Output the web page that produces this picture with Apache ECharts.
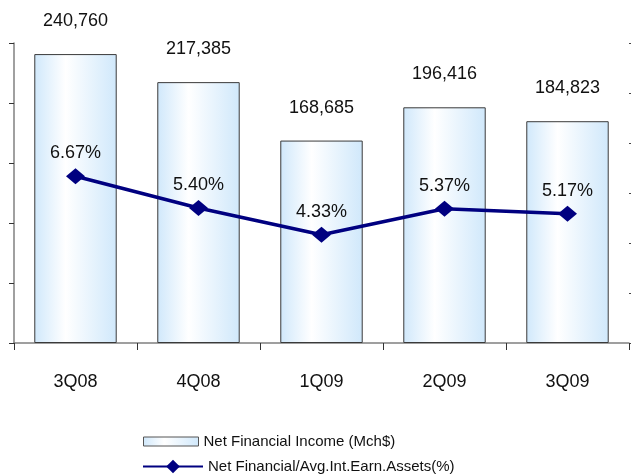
<!DOCTYPE html>
<html>
<head>
<meta charset="utf-8">
<script src="https://cdn.jsdelivr.net/npm/echarts@6/dist/echarts.min.js"></script>
<style>
  html, body { margin: 0; padding: 0; background: #fff; }
  #main { width: 631px; height: 474px; }
</style>
</head>
<body>
<div id="main"></div>
<script>
const quarters = ['3Q08', '4Q08', '1Q09', '2Q09', '3Q09'];
const netFinancialIncome = [240760, 217385, 168685, 196416, 184823];
const marginPct = [6.67, 5.40, 4.33, 5.37, 5.17];

const barName = 'Net Financial Income (Mch$)';
const lineName = 'Net Financial/Avg.Int.Earn.Assets(%)';
const font = "'Liberation Sans', Arial, sans-serif";

const chart = echarts.init(document.getElementById('main'));

const barFill = new echarts.graphic.LinearGradient(0, 0, 1, 0, [
  { offset: 0, color: '#d0e8fb' },
  { offset: 0.38, color: '#ffffff' },
  { offset: 1, color: '#d0e8fb' }
]);

chart.setOption({
  animation: false,
  textStyle: { fontFamily: font, color: '#111' },
  grid: { left: 14, right: 2, top: 43, bottom: 131 },
  legend: [
    {
      data: [{ name: barName, icon: 'rect', itemStyle: { borderWidth: 1, borderColor: '#555' } }],
      orient: 'vertical',
      left: 138,
      top: 429,
      itemWidth: 55,
      itemHeight: 9,
      textStyle: { fontFamily: font, fontSize: 15, color: '#111' }
    },
    {
      data: [lineName],
      orient: 'vertical',
      left: 137,
      top: 454,
      itemWidth: 60,
      itemHeight: 17,
      textStyle: { fontFamily: font, fontSize: 15, color: '#111' }
    }
  ],
  xAxis: {
    type: 'category',
    data: quarters,
    axisLine: { lineStyle: { color: '#808080', width: 1.5 } },
    axisTick: { show: true, length: 7, lineStyle: { color: '#333' } },
    axisLabel: { margin: 30, fontSize: 18, color: '#111', fontFamily: font }
  },
  yAxis: [
    {
      type: 'value',
      min: 0,
      max: 250000,
      interval: 50000,
      splitLine: { show: false },
      axisLine: { show: true, lineStyle: { color: '#808080', width: 1.5 } },
      axisTick: { show: true, length: 5, lineStyle: { color: '#333' } },
      axisLabel: { show: false }
    },
    {
      type: 'value',
      min: 0,
      max: 12,
      interval: 2,
      position: 'right',
      splitLine: { show: false },
      axisLine: { show: false },
      axisTick: { show: true, length: 3, lineStyle: { color: '#444' } },
      axisLabel: { show: false }
    }
  ],
  series: [
    {
      name: barName,
      type: 'bar',
      data: netFinancialIncome,
      barWidth: '67%',
      itemStyle: { color: barFill, borderColor: '#3a3a3a', borderWidth: 1 },
      label: {
        show: true,
        position: 'top',
        distance: 24,
        fontSize: 18,
        color: '#111',
        fontFamily: font,
        formatter: p => p.value.toLocaleString('en-US')
      }
    },
    {
      name: lineName,
      type: 'line',
      yAxisIndex: 1,
      data: marginPct,
      symbol: 'diamond',
      symbolSize: [19, 16],
      lineStyle: { color: '#000080', width: 3.5 },
      itemStyle: { color: '#000080' },
      label: {
        show: true,
        position: 'top',
        distance: 6,
        fontSize: 18,
        color: '#111',
        fontFamily: font,
        formatter: p => p.value.toFixed(2) + '%'
      }
    }
  ]
});
</script>
</body>
</html>
